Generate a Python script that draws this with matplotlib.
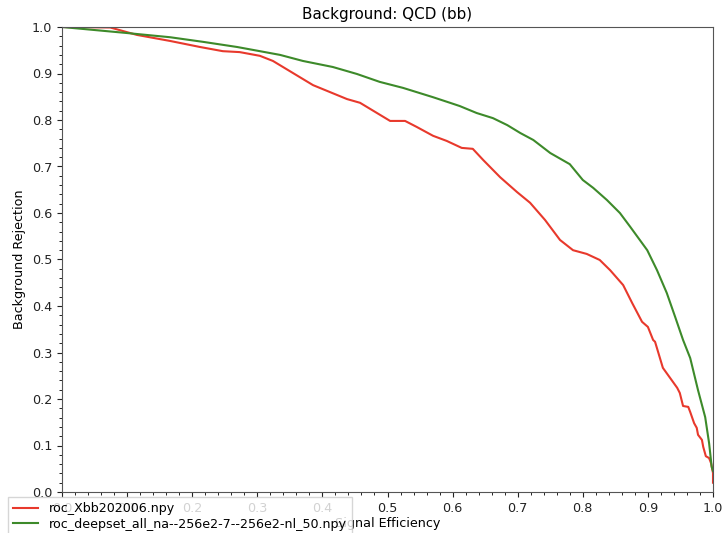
import matplotlib
matplotlib.use("Agg")
import matplotlib.pyplot as plt
from matplotlib.ticker import AutoMinorLocator, MultipleLocator

# ROC curve for roc_Xbb202006.npy
xbb_eff = [0.0, 0.074, 0.115, 0.166, 0.212, 0.247, 0.273, 0.304, 0.324, 0.3856,
           0.4378, 0.4578, 0.504, 0.527, 0.545, 0.570, 0.591, 0.614, 0.631, 0.647,
           0.673, 0.699, 0.719, 0.742, 0.765, 0.785, 0.806, 0.826, 0.842, 0.862,
           0.876, 0.891, 0.900, 0.908, 0.911, 0.923, 0.945, 0.949, 0.954, 0.962,
           0.965, 0.971, 0.975, 0.977, 0.983, 0.985, 0.989, 0.994, 0.997, 1.0, 1.0]
xbb_rej = [1.0, 0.999, 0.983, 0.970, 0.957, 0.948, 0.946, 0.938, 0.927, 0.875,
           0.845, 0.837, 0.798, 0.798, 0.785, 0.766, 0.755, 0.740, 0.738, 0.714,
           0.677, 0.645, 0.622, 0.585, 0.542, 0.520, 0.512, 0.499, 0.477, 0.445,
           0.406, 0.366, 0.355, 0.327, 0.323, 0.267, 0.224, 0.213, 0.185, 0.183,
           0.172, 0.148, 0.138, 0.123, 0.112, 0.097, 0.077, 0.073, 0.062, 0.041, 0.02]

# ROC curve for roc_deepset_all_na--256e2-7--256e2-nl_50.npy
ds_eff = [0.0, 0.100, 0.166, 0.217, 0.269, 0.304, 0.335, 0.370, 0.416, 0.453,
          0.488, 0.524, 0.570, 0.596, 0.611, 0.637, 0.662, 0.684, 0.704, 0.724,
          0.750, 0.780, 0.800, 0.816, 0.837, 0.857, 0.873, 0.899, 0.914, 0.929,
          0.942, 0.954, 0.965, 0.977, 0.988, 0.994, 0.998, 1.0]
ds_rej = [1.0, 0.987, 0.978, 0.968, 0.957, 0.948, 0.940, 0.927, 0.914, 0.899,
          0.882, 0.869, 0.849, 0.837, 0.830, 0.815, 0.804, 0.789, 0.772, 0.757,
          0.729, 0.705, 0.671, 0.654, 0.628, 0.600, 0.570, 0.520, 0.477, 0.428,
          0.376, 0.327, 0.288, 0.219, 0.161, 0.105, 0.054, 0.045]

labels = ["roc_Xbb202006.npy", "roc_deepset_all_na--256e2-7--256e2-nl_50.npy"]
colors = ["#e8392c", "#3d8a2a"]

fig = plt.figure(figsize=(7.24, 5.33), dpi=100)
ax = fig.add_axes([62 / 724, 1 - 492 / 533, (713 - 62) / 724, (492 - 27) / 533])

ax.plot(xbb_eff, xbb_rej, color=colors[0], lw=1.5, label=labels[0])
ax.plot(ds_eff, ds_rej, color=colors[1], lw=1.5, label=labels[1])

ax.set_xlim(0, 1)
ax.set_ylim(0, 1)
ax.xaxis.set_major_locator(MultipleLocator(0.1))
ax.yaxis.set_major_locator(MultipleLocator(0.1))
ax.xaxis.set_minor_locator(AutoMinorLocator(5))
ax.yaxis.set_minor_locator(AutoMinorLocator(5))
ax.tick_params(labelsize=9.2, colors="#222222")
for s in ax.spines.values():
    s.set_color("#555555")

ax.set_title("Background: QCD (bb)", fontsize=10.9, pad=6)
ax.set_xlabel("Signal Efficiency", fontsize=9.2, labelpad=2)
ax.set_ylabel("Background Rejection", fontsize=9.2)

fig.legend(loc="upper left", bbox_to_anchor=(8 / 724, 1 - 497 / 533),
           fontsize=9.1, framealpha=0.8, borderaxespad=0, labelspacing=0.2,
           fancybox=False, edgecolor="#cccccc")

fig.savefig("out.png", dpi=100)
